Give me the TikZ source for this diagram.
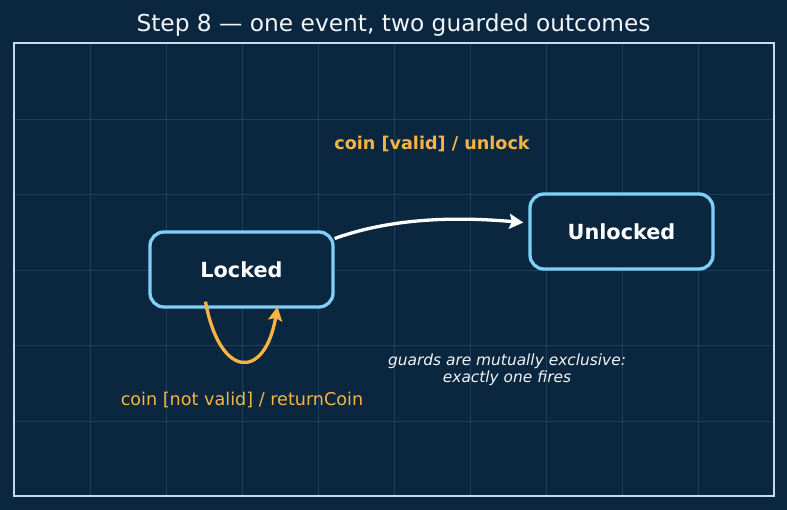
\documentclass[tikz,border=0pt]{standalone}
\usepackage{fontspec}
\setmainfont{DejaVu Sans}
\usetikzlibrary{arrows.meta, positioning, calc}

\definecolor{bgnavy}{HTML}{0B2740}
\definecolor{gridblue}{HTML}{1E3E5C}
\definecolor{framecol}{HTML}{C5DCEE}
\definecolor{stateblue}{HTML}{80CFF8}
\definecolor{guardorange}{HTML}{F6B445}
\definecolor{textwhite}{HTML}{F2F5F8}

\begin{document}
\begin{tikzpicture}[x=1pt, y=-1pt,
    state/.style={draw=stateblue, line width=3.3pt, fill=bgnavy, rounded corners=14pt,
        minimum width=183pt, minimum height=75pt, text=white,
        font=\fontsize{20.8}{24}\selectfont\bfseries},
    guard/.style={text=guardorange, font=\fontsize{17.6}{21}\selectfont}]
    % Fond et cadre
    \fill[bgnavy] (0,0) rectangle (787,510);
    \foreach \x in {90,166,...,698} {
        \draw[gridblue, line width=0.6pt] (\x,43) -- (\x,496);
    }
    \foreach \y in {119,194.5,270,345.5,421} {
        \draw[gridblue, line width=0.6pt] (14,\y) -- (774,\y);
    }
    \draw[framecol, line width=1.5pt] (14,43) rectangle (774,496);
    \node[text=textwhite, font=\fontsize{23.3}{28}\selectfont] (title) at (393.5,25)
        {Step 8 — one event, two guarded outcomes};

    % Etats
    \node[state] (locked) at (241.5,269.5) {Locked};
    \node[state] (unlocked) at (621.5,231.5) {Unlocked};

    % Transitions
    \draw[white, line width=3.3pt, -{Stealth[length=14pt, width=15pt, inset=2.5pt]}]
        ([yshift=31pt]locked.east) .. controls (400,215) and (470,218) ..
        ([xshift=-5pt, yshift=9pt]unlocked.west);
    \node[guard, font=\fontsize{17.6}{21}\selectfont\bfseries] (validlbl) at (432,144)
        {coin [valid] / unlock};
    \draw[guardorange, line width=3.3pt, -{Stealth[length=14pt, width=14pt, inset=2.5pt]}]
        ([xshift=-36pt, yshift=7pt]locked.south) .. controls (220,380) and (265,380) ..
        ([xshift=36pt, yshift=2pt]locked.south);
    \node[guard] (notvalidlbl) at (242,400) {coin [not valid] / returnCoin};

    % Remarque
    \node[text=textwhite, align=center, font=\fontsize{15.4}{17}\selectfont\itshape] (note)
        at (507,370) {guards are mutually exclusive:\\exactly one fires};
\end{tikzpicture}
\end{document}
